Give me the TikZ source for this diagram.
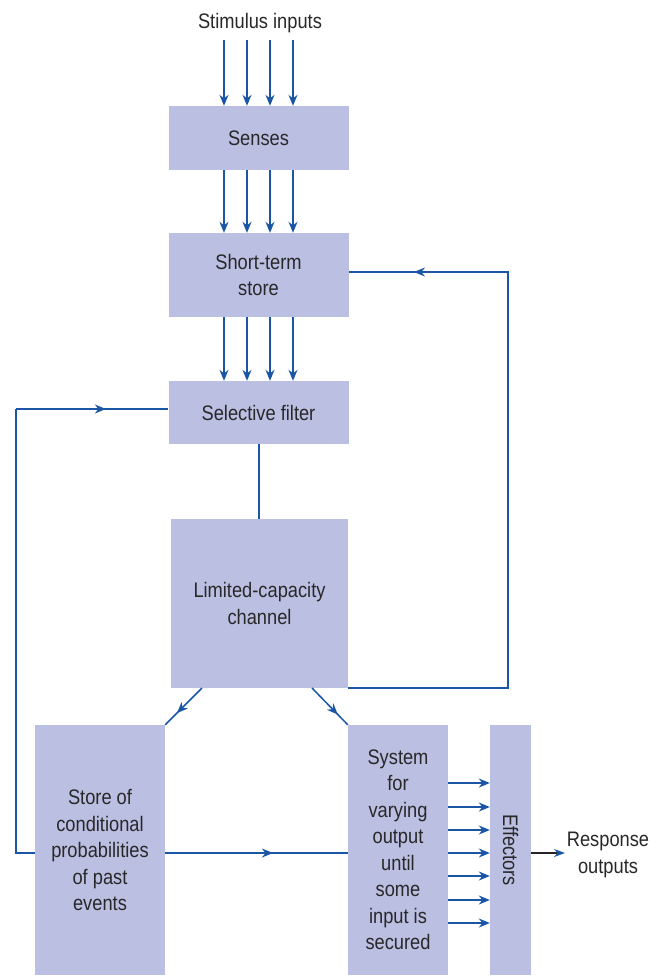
\documentclass[tikz,border=0pt]{standalone}
\usepackage{fontspec}
\setmainfont{Liberation Sans}[FakeStretch=0.87]
\usetikzlibrary{arrows.meta,decorations.markings}
\definecolor{boxfill}{RGB}{187,191,226}
\definecolor{lineblue}{RGB}{26,86,165}
\definecolor{txt}{RGB}{40,40,40}
\begin{document}
\begin{tikzpicture}[x=1pt,y=-1pt,
  every node/.style={text=txt,font=\fontsize{21}{26.5}\selectfont},
  box/.style={fill=boxfill,draw=none,align=center,inner sep=0pt},
  flow/.style={color=lineblue,line width=1.5pt,-{Stealth[length=11pt,width=9pt]}},
  plain/.style={color=lineblue,line width=1.5pt},
  midarrow/.style={postaction={decorate},decoration={markings,
     mark=at position #1 with {\arrow{Stealth[length=11pt,width=9pt]}}}}]
\useasboundingbox (0,0) rectangle (660,978);

% boxes
\node[box,minimum width=180,minimum height=64] (senses) at (258.5,138) {Senses};
\node[box,minimum width=180,minimum height=84] (sts) at (258.5,275) {Short-term\\store};
\node[box,minimum width=180,minimum height=63] (filter) at (258.5,412.5) {Selective filter};
\node[box,minimum width=177,minimum height=169] (lcc) at (259.5,603.5) {Limited-capacity\\channel};
\node[box,minimum width=130,minimum height=250] (store) at (100,850) {Store of\\conditional\\probabilities\\of past\\events};
\node[box,minimum width=100,minimum height=250] (sys) at (398,850) {System\\for\\varying\\output\\until\\some\\input is\\secured};
\node[box,minimum width=41,minimum height=250] (eff) at (510.5,850) {};
\node[rotate=-90] (efftext) at (510.5,850) {Effectors};

% labels
\node (stim) at (260,23) {Stimulus inputs};
\node[align=center,inner sep=0pt] (resp) at (608,855) {Response\\outputs};

% helper coordinates
\coordinate (intop) at (258.5,40);
\coordinate (loopy) at (0,409);
\coordinate (midy) at (0,853);
\coordinate (fbx) at (508,0);
\coordinate (fby) at (0,272);
\coordinate (leftx) at (16,0);
\coordinate (linkx) at (259,0);
\coordinate (lccL) at (202,688);
\coordinate (lccR) at (312,688);
\coordinate (respend) at (565,853);

% vertical input arrows
\foreach \dx in {-34.5,-11.5,11.5,34.5}{
  \draw[flow] ([xshift=\dx pt]intop) -- ([xshift=\dx pt]senses.north);
  \draw[flow] ([xshift=\dx pt]senses.south) -- ([xshift=\dx pt]sts.north);
  \draw[flow] ([xshift=\dx pt]sts.south) -- ([xshift=\dx pt]filter.north);
}

% filter to channel
\draw[plain] (linkx |- filter.south) -- (linkx |- lcc.north);

% feedback loop to short-term store
\draw[plain,line join=miter,midarrow=670pt] (lcc.south east) -- (fbx |- lcc.south) -- (fbx |- fby) -- (sts.east |- fby);

% loop from store of conditional probabilities to filter
\draw[plain,line join=miter] (store.west |- midy) -- (leftx |- midy) -- (leftx |- loopy);
\draw[plain,midarrow=0.59] (leftx |- loopy) -- (filter.west |- loopy);

% channel to store and system
\draw[plain,midarrow=0.68] (lccL) -- (store.north east);
\draw[plain,midarrow=0.72] (lccR) -- (sys.north west);

% store to system
\draw[plain,midarrow=0.59] (store.east |- midy) -- (sys.west |- midy);

% system to effectors
\foreach \y in {783,807,830,853,876,900,923}{
  \draw[flow] (sys.east |- 0,\y) -- (eff.west |- 0,\y);
}

% effectors to response
\draw[line width=1.2pt,color=black!85,-{Stealth[length=11pt,width=8pt,color=lineblue]}] (eff.east |- midy) -- (respend);
\end{tikzpicture}
\end{document}
